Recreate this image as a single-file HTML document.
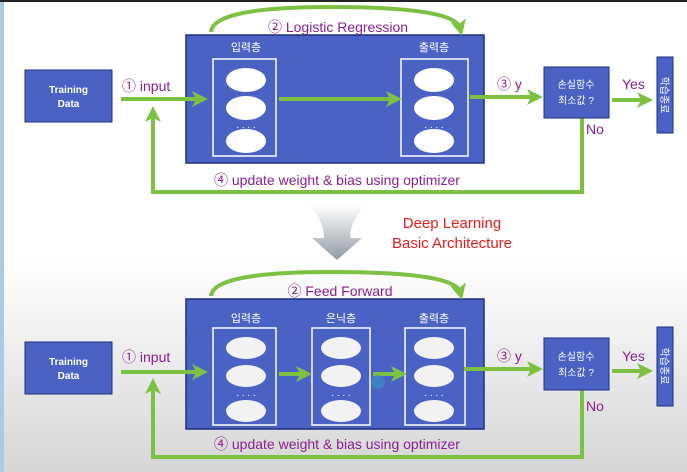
<!DOCTYPE html>
<html><head><meta charset="utf-8"><style>
html,body{margin:0;padding:0;width:687px;height:472px;overflow:hidden;background:#fff}
svg{display:block}
text{font-family:"Liberation Sans","Noto Sans CJK KR",sans-serif}
</style></head><body>
<svg width="687" height="472" viewBox="0 0 687 472" xmlns="http://www.w3.org/2000/svg">
<defs>
<linearGradient id="bg" x1="0" y1="0" x2="0" y2="1">
<stop offset="0" stop-color="#ffffff"/><stop offset="0.55" stop-color="#ffffff"/><stop offset="1" stop-color="#d6d6d6"/>
</linearGradient>
<linearGradient id="fun" x1="0" y1="0" x2="0" y2="1">
<stop offset="0" stop-color="#ffffff"/><stop offset="1" stop-color="#8f9aa6"/>
</linearGradient>
<marker id="ah" markerWidth="4" markerHeight="4" refX="2" refY="2" orient="auto" markerUnits="strokeWidth"><path d="M0,0 L4,2 L0,4 L1,2 Z" fill="#7cc142"/></marker>
</defs>
<rect width="687" height="472" fill="url(#bg)"/>
<rect x="0" y="0" width="4" height="472" fill="#a9cbe6"/>
<rect x="0" y="0" width="687" height="2" fill="#222"/>

<g id="top">
<rect x="25" y="70" width="87" height="52" fill="#4a62c4" stroke="#1e2f80"/>
<text x="68.5" y="93" fill="#fff" font-size="10" font-weight="bold" text-anchor="middle">Training</text>
<text x="68.5" y="107" fill="#fff" font-size="10" font-weight="bold" text-anchor="middle">Data</text>
<rect x="186" y="35" width="298" height="128" fill="#4a62c4" stroke="#1e2f80" stroke-width="1.5"/>
<text x="246" y="51" fill="#fff" font-size="11" text-anchor="middle">입력층</text>
<text x="434" y="51" fill="#fff" font-size="11" text-anchor="middle">출력층</text>
<rect x="213" y="59" width="63" height="97" fill="none" stroke="#fff" stroke-width="1.5"/>
<rect x="401" y="59" width="67" height="97" fill="none" stroke="#fff" stroke-width="1.5"/>
<g fill="#fff">
<ellipse cx="246" cy="80" rx="20" ry="12"/><ellipse cx="246" cy="108" rx="20" ry="12"/><ellipse cx="246" cy="141" rx="20" ry="12"/>
<ellipse cx="434" cy="80" rx="20" ry="12"/><ellipse cx="434" cy="108" rx="20" ry="12"/><ellipse cx="434" cy="141" rx="20" ry="12"/>
</g>
<text x="246" y="128" fill="#fff" font-size="10" text-anchor="middle">. . . .</text>
<text x="434" y="128" fill="#fff" font-size="10" text-anchor="middle">. . . .</text>
<g stroke="#7cc142" stroke-width="4" fill="none">
<line x1="121" y1="99" x2="200" y2="99" marker-end="url(#ah)"/>
<line x1="279" y1="99" x2="394" y2="99" marker-end="url(#ah)"/>
<line x1="470" y1="97" x2="535" y2="97" marker-end="url(#ah)"/>
<line x1="612" y1="100" x2="645" y2="100" marker-end="url(#ah)"/>
<polyline points="582,118 582,192 153,192 153,114" marker-end="url(#ah)"/>
<path d="M211,32 Q213,7 330,7 Q455,7 460,28" marker-end="url(#ah)"/>
</g>
<text x="122" y="91" fill="#8a1f8f" font-size="14">① input</text>
<text x="338" y="32" fill="#8a1f8f" font-size="14" text-anchor="middle">② Logistic Regression</text>
<text x="497" y="89" fill="#8a1f8f" font-size="14">③  y</text>
<text x="622" y="89" fill="#8a1f8f" font-size="14">Yes</text>
<text x="586" y="134" fill="#8a1f8f" font-size="14">No</text>
<text x="214" y="185" fill="#8a1f8f" font-size="14">④  update weight &amp; bias using optimizer</text>
<rect x="544" y="67" width="65" height="51" fill="#4a62c4" stroke="#1e2f80"/>
<text x="576" y="88" fill="#fff" font-size="10" text-anchor="middle">손실함수</text>
<text x="576" y="104" fill="#fff" font-size="10" text-anchor="middle">최소값 ?</text>
<rect x="657" y="57" width="16" height="76" fill="#4a62c4" stroke="#1e2f80"/>
<text transform="translate(661,95) rotate(90)" fill="#fff" font-size="10" text-anchor="middle">학습종료</text>
</g>

<path d="M310,205 L365,205 Q350,222 350,238 L362,238 L337,260 L312,238 L324,238 Q324,222 310,205 Z" fill="url(#fun)"/>
<text x="452" y="228" fill="#e0201e" font-size="15" text-anchor="middle">Deep Learning</text>
<text x="452" y="248" fill="#e0201e" font-size="15" text-anchor="middle">Basic Architecture</text>

<g id="bot">
<rect x="25" y="342" width="87" height="52" fill="#4a62c4" stroke="#1e2f80"/>
<text x="68.5" y="365" fill="#fff" font-size="10" font-weight="bold" text-anchor="middle">Training</text>
<text x="68.5" y="379" fill="#fff" font-size="10" font-weight="bold" text-anchor="middle">Data</text>
<rect x="186" y="299" width="298" height="130" fill="#4a62c4" stroke="#1e2f80" stroke-width="1.5"/>
<text x="246" y="322" fill="#fff" font-size="11" text-anchor="middle">입력층</text>
<text x="341" y="322" fill="#fff" font-size="11" text-anchor="middle">은닉층</text>
<text x="434" y="322" fill="#fff" font-size="11" text-anchor="middle">출력층</text>
<rect x="213" y="328" width="63" height="97" fill="none" stroke="#fff" stroke-width="1.5"/>
<rect x="312" y="328" width="58" height="97" fill="none" stroke="#fff" stroke-width="1.5"/>
<rect x="405" y="328" width="60" height="97" fill="none" stroke="#fff" stroke-width="1.5"/>
<g fill="#f2f2f2">
<ellipse cx="246" cy="348" rx="20" ry="11"/><ellipse cx="246" cy="376" rx="20" ry="11"/><ellipse cx="246" cy="411" rx="20" ry="11"/>
<ellipse cx="341" cy="348" rx="20" ry="11"/><ellipse cx="341" cy="376" rx="20" ry="11"/><ellipse cx="341" cy="411" rx="20" ry="11"/>
<ellipse cx="434" cy="348" rx="20" ry="11"/><ellipse cx="434" cy="376" rx="20" ry="11"/><ellipse cx="434" cy="411" rx="20" ry="11"/>
</g>
<text x="246" y="396" fill="#fff" font-size="10" text-anchor="middle">. . . .</text>
<text x="341" y="396" fill="#fff" font-size="10" text-anchor="middle">. . . .</text>
<text x="434" y="396" fill="#fff" font-size="10" text-anchor="middle">. . . .</text>
<g stroke="#7cc142" stroke-width="4" fill="none">
<line x1="121" y1="372" x2="200" y2="372" marker-end="url(#ah)"/>
<line x1="279" y1="374" x2="304" y2="374" marker-end="url(#ah)"/>
<line x1="373" y1="374" x2="399" y2="374" marker-end="url(#ah)"/>
<line x1="464" y1="369" x2="535" y2="369" marker-end="url(#ah)"/>
<line x1="612" y1="371" x2="645" y2="371" marker-end="url(#ah)"/>
<polyline points="582,390 582,457 153,457 153,386" marker-end="url(#ah)"/>
<path d="M211,296 Q213,272 330,272 Q455,272 460,292" marker-end="url(#ah)"/>
</g>
<circle cx="378" cy="382" r="7" fill="#3a8cc8" opacity="0.7"/>
<text x="122" y="362" fill="#8a1f8f" font-size="14">① input</text>
<text x="340" y="296" fill="#8a1f8f" font-size="14" text-anchor="middle">② Feed Forward</text>
<text x="497" y="361" fill="#8a1f8f" font-size="14">③  y</text>
<text x="622" y="361" fill="#8a1f8f" font-size="14">Yes</text>
<text x="586" y="411" fill="#8a1f8f" font-size="14">No</text>
<text x="214" y="449" fill="#8a1f8f" font-size="14">④  update weight &amp; bias using optimizer</text>
<rect x="544" y="338" width="65" height="52" fill="#4a62c4" stroke="#1e2f80"/>
<text x="576" y="360" fill="#fff" font-size="10" text-anchor="middle">손실함수</text>
<text x="576" y="376" fill="#fff" font-size="10" text-anchor="middle">최소값 ?</text>
<rect x="657" y="327" width="16" height="79" fill="#4a62c4" stroke="#1e2f80"/>
<text transform="translate(661,366) rotate(90)" fill="#fff" font-size="10" text-anchor="middle">학습종료</text>
</g>
</svg>
</body></html>
